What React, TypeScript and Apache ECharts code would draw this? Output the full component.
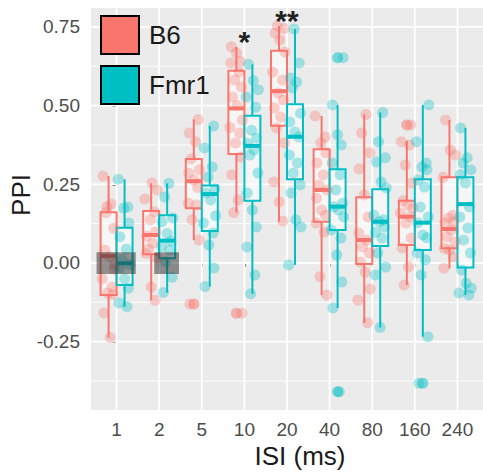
import React, { useEffect, useRef } from 'react';
import * as echarts from 'echarts';

// ---------- data ----------
const categories = ['1', '2', '5', '10', '20', '40', '80', '160', '240'];
const groups = ['B6', 'Fmr1'];
const colors = ['#F8766D', '#00BFC4'];

// [lower whisker, Q1, median, Q3, upper whisker]
const b6Box = [
  [-0.237, -0.102, 0.022, 0.161, 0.276],
  [-0.118, 0.028, 0.089, 0.165, 0.253],
  [0.073, 0.174, 0.26, 0.33, 0.456],
  [0.16, 0.346, 0.491, 0.611, 0.687],
  [0.131, 0.436, 0.546, 0.674, 0.753],
  [-0.102, 0.131, 0.232, 0.361, 0.467],
  [-0.19, -0.003, 0.073, 0.209, 0.472],
  [-0.07, 0.057, 0.147, 0.198, 0.388],
  [-0.017, 0.047, 0.108, 0.272, 0.454],
];
const fmr1Box = [
  [-0.139, -0.07, -0.001, 0.112, 0.266],
  [-0.094, 0.015, 0.071, 0.152, 0.253],
  [-0.075, 0.102, 0.219, 0.246, 0.435],
  [-0.098, 0.198, 0.372, 0.468, 0.631],
  [-0.006, 0.266, 0.401, 0.504, 0.743],
  [-0.143, 0.105, 0.179, 0.298, 0.502],
  [-0.205, 0.054, 0.131, 0.234, 0.478],
  [-0.234, 0.041, 0.128, 0.266, 0.502],
  [-0.102, -0.014, 0.187, 0.272, 0.429],
];

const b6Points = [
  [0.276, 0.187, 0.178, 0.11, 0.041, 0.02, -0.005, -0.05, -0.076, -0.095, -0.1, -0.159, -0.237, 0.16, -0.02],
  [0.254, 0.232, 0.203, 0.162, 0.137, 0.098, 0.085, 0.063, 0.044, 0.016, 0.03, -0.076, -0.118],
  [0.456, 0.413, 0.385, 0.33, 0.296, 0.286, 0.264, 0.24, 0.19, 0.184, 0.137, 0.073, -0.13],
  [0.687, 0.667, 0.64, 0.635, 0.607, 0.581, 0.559, 0.527, 0.5, 0.454, 0.43, 0.413, 0.381, 0.337, 0.28, 0.2, 0.16, -0.16],
  [0.753, 0.745, 0.73, 0.708, 0.67, 0.607, 0.581, 0.54, 0.518, 0.492, 0.464, 0.429, 0.381, 0.257, 0.194, 0.133],
  [0.467, 0.4, 0.381, 0.35, 0.318, 0.28, 0.248, 0.232, 0.206, 0.168, 0.152, 0.127, 0.098, -0.044, -0.102],
  [0.472, 0.413, 0.35, 0.299, 0.216, 0.146, 0.095, 0.073, 0.051, 0.032, 0.003, -0.029, -0.083, -0.118, -0.19],
  [0.438, 0.385, 0.375, 0.311, 0.254, 0.198, 0.184, 0.175, 0.159, 0.147, 0.127, 0.079, 0.048, -0.013, -0.07],
  [0.454, 0.359, 0.343, 0.272, 0.152, 0.143, 0.13, 0.127, 0.105, 0.083, 0.067, 0.047, 0.041, 0.019, -0.017],
];
const fmr1Points = [
  [0.266, 0.178, 0.175, 0.127, 0.083, 0.044, 0.01, -0.005, -0.017, -0.05, -0.08, -0.127, -0.139],
  [0.253, 0.21, 0.143, 0.131, 0.094, 0.07, 0.052, 0.041, 0.004, -0.045, -0.094],
  [0.435, 0.365, 0.305, 0.273, 0.235, 0.222, 0.2, 0.15, 0.127, 0.095, 0.057, -0.016, -0.075],
  [0.631, 0.58, 0.55, 0.527, 0.495, 0.422, 0.397, 0.38, 0.359, 0.343, 0.286, 0.222, 0.168, 0.114, 0.051, -0.038, -0.098],
  [0.743, 0.635, 0.588, 0.575, 0.556, 0.476, 0.448, 0.416, 0.4, 0.343, 0.318, 0.286, 0.248, 0.222, 0.137, 0.114, -0.006],
  [0.652, 0.502, 0.407, 0.375, 0.318, 0.28, 0.232, 0.19, 0.179, 0.168, 0.146, 0.105, 0.079, 0.025, -0.06, -0.143, -0.409],
  [0.478, 0.385, 0.334, 0.321, 0.257, 0.238, 0.152, 0.137, 0.131, 0.114, 0.098, 0.079, 0.032, -0.013, -0.038, -0.205],
  [0.502, 0.385, 0.318, 0.305, 0.296, 0.264, 0.241, 0.178, 0.146, 0.128, 0.089, 0.08, 0.032, 0.01, -0.038, -0.234, -0.382],
  [0.429, 0.334, 0.318, 0.296, 0.28, 0.254, 0.178, 0.146, 0.111, 0.073, 0.032, -0.022, -0.064, -0.08, -0.095, -0.102],
];

// [category index, value]
const b6Outliers = [[2, -0.13], [3, -0.16], [7, 0.438]];
const fmr1Outliers = [[5, 0.652], [5, -0.409], [7, -0.382]];

// fixed horizontal jitter offsets (category units)
const jitter = [-0.13, 0.06, -0.04, 0.12, -0.09, 0.02, 0.14, -0.15, 0.08, -0.02, 0.1, -0.11, 0.04, -0.06, 0.13, -0.12, 0.0, 0.09];

// shaded annotation rectangles [x0, x1, y0, y1] in data units
const shadeRects = [
  [-0.47, 0.45, -0.035, 0.034],
  [0.885, 1.465, -0.035, 0.034],
];

// significance marks [category index, y position, text]
const sigMarks = [
  [3, 0.703, '*'],
  [4, 0.77, '**'],
];

const yTicks = [-0.25, 0, 0.25, 0.5, 0.75];
const yMinor = [-0.375, -0.125, 0.125, 0.375, 0.625];

// ---------- chart ----------
const FONT = '"Liberation Sans", Arial, Helvetica, sans-serif';
const DODGE = 0.1875;
const BOX_W = 0.375;

export default function App() {
  const ref = useRef<HTMLDivElement>(null);

  useEffect(() => {
    if (!ref.current) return;
    const chart = echarts.init(ref.current, undefined, { renderer: 'svg' });

    const boxes = [b6Box, fmr1Box];
    const pts = [b6Points, fmr1Points];
    const outs = [b6Outliers, fmr1Outliers];
    const offs = [-DODGE, DODGE];

    const series: any[] = [];

    // grid lines
    series.push({
      type: 'custom',
      name: 'hgrid',
      z: 1,
      silent: true,
      data: [...yTicks.map((v) => [0, v, 1]), ...yMinor.map((v) => [0, v, 0])],
      encode: { x: 0, y: 1 },
      renderItem: (params: any, api: any) => {
        const cs = params.coordSys;
        const p = api.coord([0, api.value(1)]);
        const major = api.value(2) === 1;
        return {
          type: 'line',
          shape: { x1: cs.x, y1: p[1], x2: cs.x + cs.width, y2: p[1] },
          style: { stroke: '#FFFFFF', lineWidth: major ? 1.8 : 0.9 },
        };
      },
    });
    series.push({
      type: 'custom',
      name: 'vgrid',
      z: 1,
      silent: true,
      data: categories.map((_, i) => [i, 0]),
      encode: { x: 0, y: 1 },
      renderItem: (params: any, api: any) => {
        const cs = params.coordSys;
        const p = api.coord([api.value(0), 0]);
        return {
          type: 'line',
          shape: { x1: p[0], y1: cs.y, x2: p[0], y2: cs.y + cs.height },
          style: { stroke: '#FFFFFF', lineWidth: 1.8 },
        };
      },
    });

    groups.forEach((g, gi) => {
      const color = colors[gi];
      // boxes
      series.push({
        type: 'custom',
        name: g + ' box',
        z: 3,
        silent: true,
        data: boxes[gi].map((b, i) => [i + offs[gi], ...b]),
        encode: { x: 0, y: [1, 2, 3, 4, 5] },
        renderItem: (params: any, api: any) => {
          const xc = api.value(0);
          const lw = api.coord([xc, api.value(1)]);
          const q1 = api.coord([xc, api.value(2)]);
          const md = api.coord([xc, api.value(3)]);
          const q3 = api.coord([xc, api.value(4)]);
          const uw = api.coord([xc, api.value(5)]);
          const w = api.size([BOX_W, 0])[0];
          return {
            type: 'group',
            children: [
              { type: 'line', shape: { x1: q3[0], y1: q3[1], x2: uw[0], y2: uw[1] }, style: { stroke: color, lineWidth: 2 } },
              { type: 'line', shape: { x1: q1[0], y1: q1[1], x2: lw[0], y2: lw[1] }, style: { stroke: color, lineWidth: 2 } },
              {
                type: 'rect',
                shape: { x: q3[0] - w / 2, y: q3[1], width: w, height: q1[1] - q3[1] },
                style: { fill: 'rgba(255,255,255,0.55)', stroke: color, lineWidth: 2 },
              },
              { type: 'line', shape: { x1: md[0] - w / 2, y1: md[1], x2: md[0] + w / 2, y2: md[1] }, style: { stroke: color, lineWidth: 4 } },
            ],
          };
        },
      });
      // jittered points
      const data: number[][] = [];
      pts[gi].forEach((arr, i) => {
        arr.forEach((v, j) => {
          data.push([i + offs[gi] + jitter[(j + i * 5 + gi * 7) % jitter.length], v]);
        });
      });
      series.push({
        type: 'scatter',
        name: g,
        z: 4,
        symbol: 'circle',
        symbolSize: 11,
        itemStyle: { color, opacity: 0.33 },
        data,
      });
      // outliers
      series.push({
        type: 'scatter',
        name: g + ' outliers',
        z: 5,
        symbol: 'circle',
        symbolSize: 11,
        itemStyle: { color, opacity: 0.5 },
        data: outs[gi].map((o) => [o[0] + offs[gi], o[1]]),
      });
    });

    // shaded rectangles
    series.push({
      type: 'custom',
      name: 'shade',
      z: 6,
      silent: true,
      data: shadeRects,
      encode: { x: [0, 1], y: [2, 3] },
      renderItem: (params: any, api: any) => {
        const a = api.coord([api.value(0), api.value(3)]);
        const b = api.coord([api.value(1), api.value(2)]);
        return {
          type: 'rect',
          shape: { x: a[0], y: a[1], width: b[0] - a[0], height: b[1] - a[1] },
          style: { fill: 'rgba(40,40,40,0.5)' },
        };
      },
    });

    // significance stars
    series.push({
      type: 'custom',
      name: 'sig',
      z: 7,
      silent: true,
      data: sigMarks,
      encode: { x: 0, y: 1 },
      renderItem: (params: any, api: any) => {
        const p = api.coord([api.value(0), api.value(1)]);
        const txt = sigMarks[params.dataIndex][2] as string;
        return {
          type: 'text',
          x: p[0],
          y: p[1],
          style: {
            text: txt,
            fontSize: 30,
            fontWeight: 'bold',
            fontFamily: FONT,
            fill: '#222222',
            align: 'center',
            verticalAlign: 'middle',
          },
        };
      },
    });

    const option: any = {
      animation: false,
      backgroundColor: '#FFFFFF',
      grid: {
        left: 91,
        right: 0,
        top: 8,
        bottom: 66,
        show: true,
        backgroundColor: '#EBEBEB',
        borderWidth: 0,
        containLabel: false,
      },
      legend: {
        left: 100,
        top: 15,
        padding: 0,
        orient: 'vertical',
        itemWidth: 38,
        itemHeight: 38,
        itemGap: 10,
        selectedMode: false,
        textStyle: { fontSize: 26, color: '#1A1A1A', fontFamily: FONT, padding: [0, 0, 0, 5] },
        data: groups.map((g, gi) => ({
          name: g,
          icon: 'rect',
          itemStyle: { color: colors[gi], borderColor: '#000000', borderWidth: 2, opacity: 1 },
        })),
      },
      xAxis: {
        type: 'value',
        min: -0.6,
        max: 8.6,
        axisLine: { show: false },
        splitLine: { show: false },
        axisTick: {
          show: true,
          customValues: categories.map((_, i) => i),
          length: 4,
          lineStyle: { color: '#333333', width: 1.5 },
        },
        axisLabel: {
          customValues: categories.map((_, i) => i),
          formatter: (v: number) => categories[Math.round(v)] ?? '',
          fontSize: 19,
          color: '#4D4D4D',
          fontFamily: FONT,
          margin: 10,
        },
      },
      yAxis: {
        type: 'value',
        min: -0.467,
        max: 0.81,
        axisLine: { show: false },
        splitLine: { show: false },
        axisTick: {
          show: true,
          customValues: yTicks,
          length: 4,
          lineStyle: { color: '#333333', width: 1.5 },
        },
        axisLabel: {
          customValues: yTicks,
          formatter: (v: number) => v.toFixed(2),
          fontSize: 19,
          color: '#4D4D4D',
          fontFamily: FONT,
          margin: 11,
        },
      },
      graphic: [
        {
          type: 'text',
          x: 300,
          y: 456,
          style: {
            text: 'ISI (ms)',
            fontSize: 26,
            fontFamily: FONT,
            fill: '#1A1A1A',
            align: 'center',
            verticalAlign: 'middle',
          },
        },
        {
          type: 'text',
          x: 21,
          y: 195,
          rotation: Math.PI / 2,
          style: {
            text: 'PPI',
            fontSize: 26,
            fontFamily: FONT,
            fill: '#1A1A1A',
            align: 'center',
            verticalAlign: 'middle',
          },
        },
      ],
      series,
    };

    chart.setOption(option);
    return () => chart.dispose();
  }, []);

  return (
    <div
      ref={ref}
      style={{ position: 'fixed', left: 0, top: 0, width: 483, height: 476 }}
    />
  );
}
